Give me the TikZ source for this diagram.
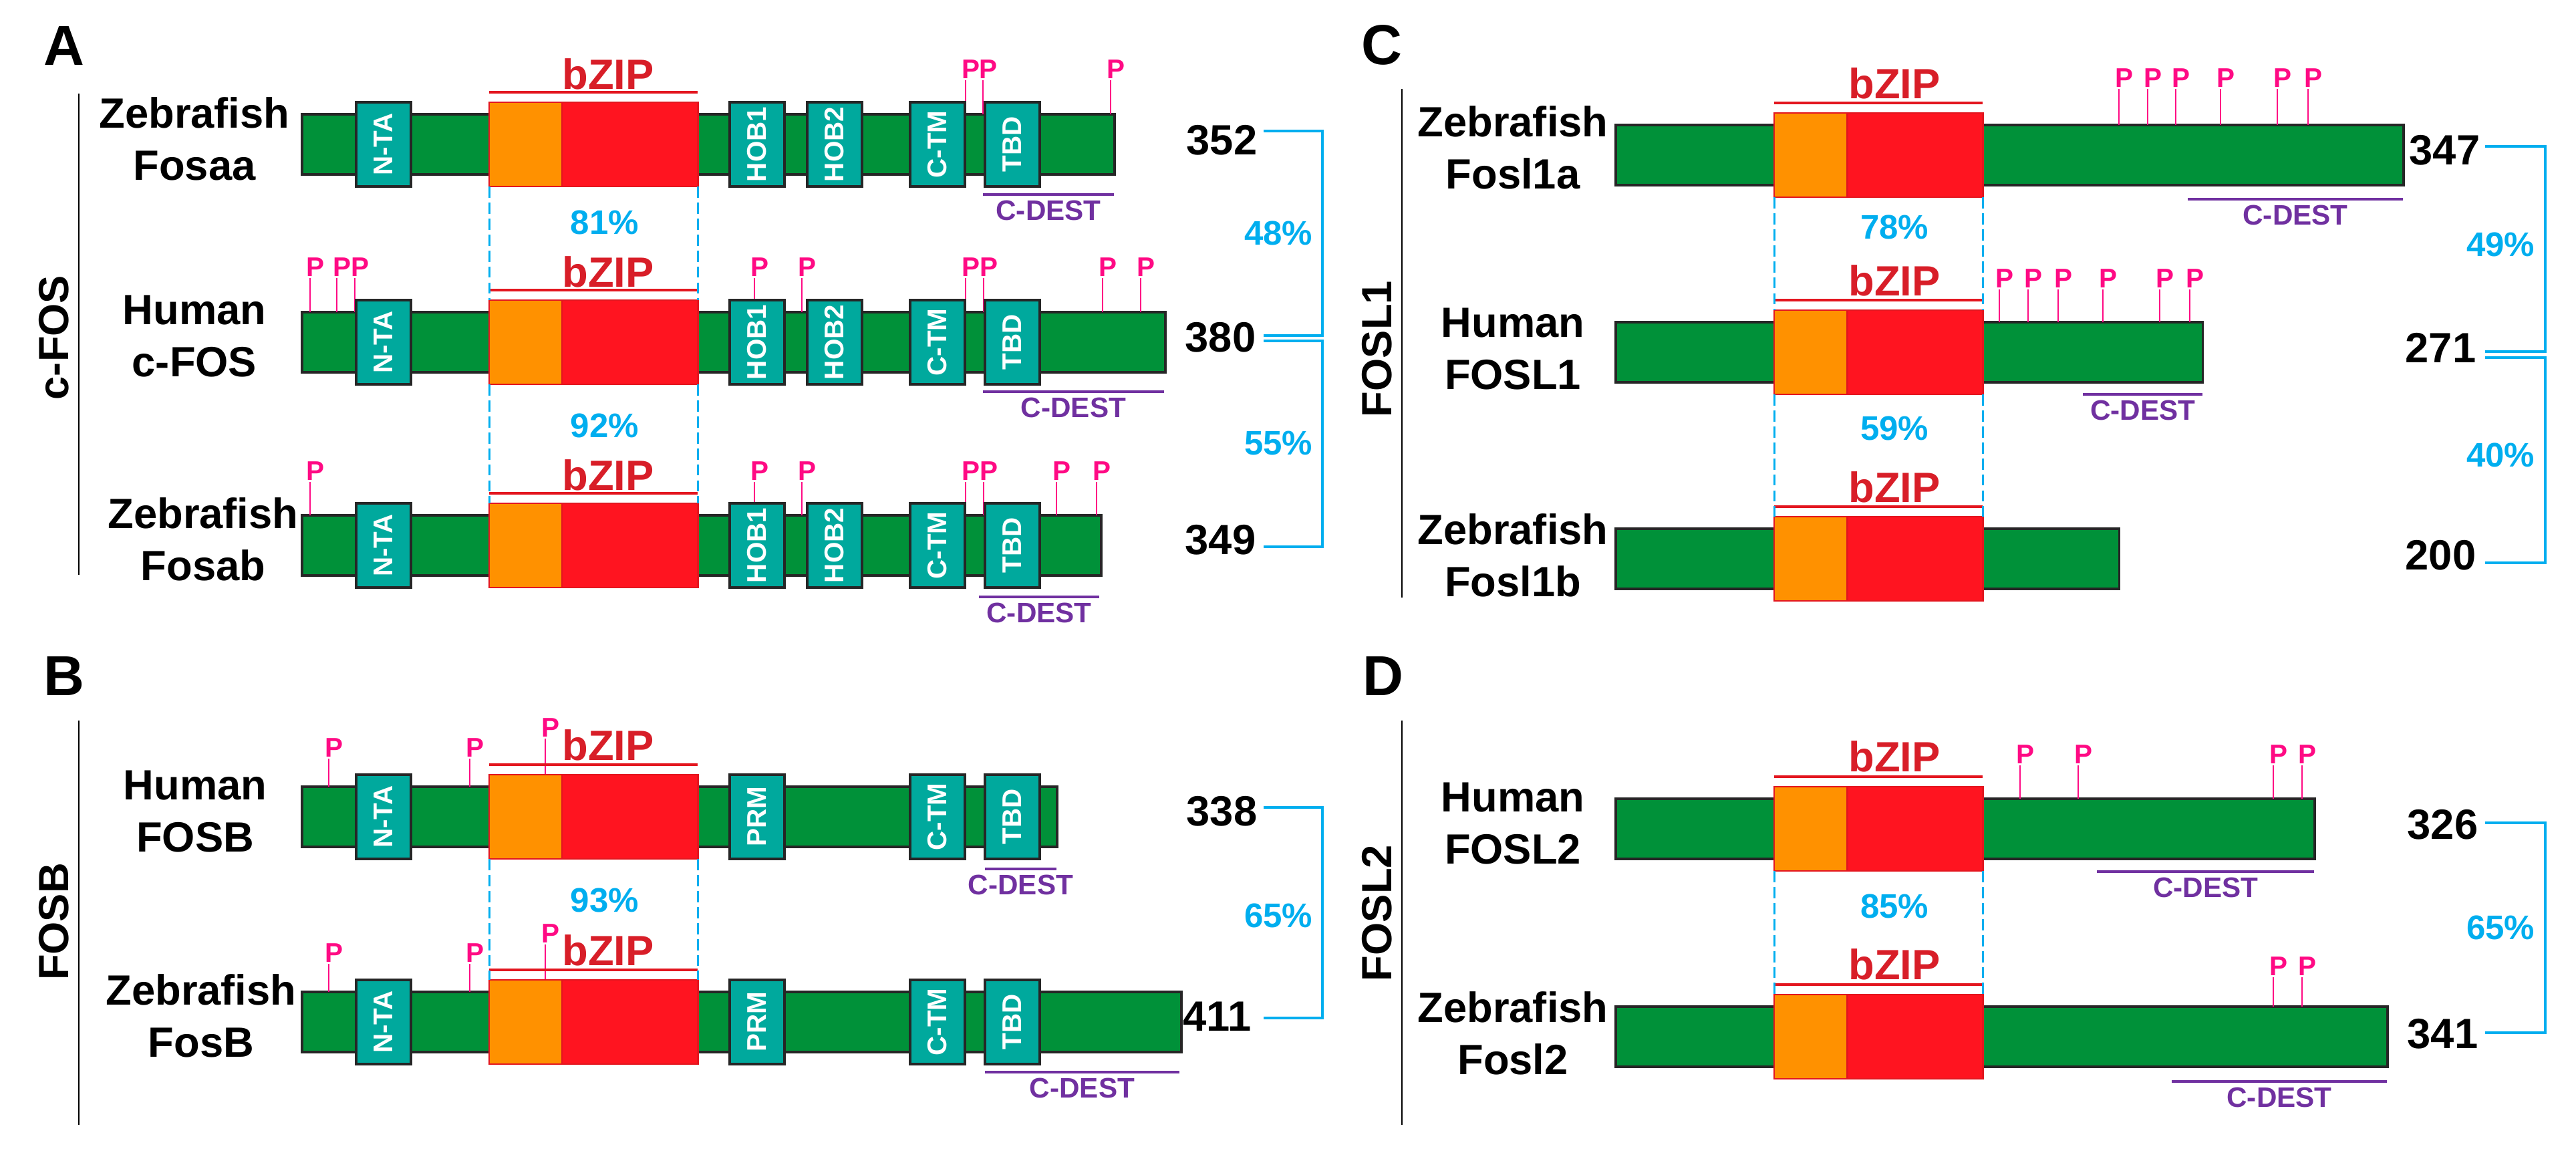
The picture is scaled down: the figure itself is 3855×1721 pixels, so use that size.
\documentclass[tikz,border=0pt]{standalone}
\usepackage{fontspec}
\setmainfont{Liberation Sans}
\setsansfont{Liberation Sans}
\usetikzlibrary{positioning}

\definecolor{fosgreen}{HTML}{009139}
\definecolor{domteal}{HTML}{00A99D}
\definecolor{bzorange}{HTML}{FF9100}
\definecolor{bzred}{HTML}{FF1420}
\definecolor{bzline}{HTML}{E3161F}
\definecolor{bztext}{HTML}{D81E28}
\definecolor{pmag}{HTML}{FF0A84}
\definecolor{destpurple}{HTML}{7030A0}
\definecolor{simcyan}{HTML}{00AEEF}

\tikzset{
	bar/.style={draw=black!85, fill=fosgreen, line width=1.1pt, minimum height=0.9cm, inner sep=0pt, outer sep=0pt, anchor=west},
	dom/.style={draw=black!85, fill=domteal, line width=1.1pt, rotate=90, minimum width=1.26cm, minimum height=0.82cm, inner sep=0pt, outer sep=0pt, text=white, font=\bfseries\fontsize{11.5}{12}\selectfont},
	bzo/.style={draw=bzline, fill=bzorange, line width=0.8pt, minimum width=1.09cm, minimum height=1.26cm, inner sep=0pt, outer sep=0pt, anchor=west},
	bzr/.style={draw=bzline, fill=bzred, line width=0.8pt, minimum width=2.03cm, minimum height=1.26cm, inner sep=0pt, outer sep=0pt, anchor=west},
	bzl/.style={draw=bzline, line width=1.2pt},
	bzlab/.style={text=bztext, font=\bfseries\fontsize{18}{20}\selectfont, inner sep=0pt, anchor=base},
	pl/.style={draw=pmag, line width=0.8pt},
	ptxt/.style={text=pmag, font=\bfseries\fontsize{11.5}{12}\selectfont, inner sep=0pt, anchor=base west, xshift=-0.06cm},
	dest/.style={draw=destpurple, line width=1pt},
	destlab/.style={text=destpurple, font=\bfseries\fontsize{12}{13}\selectfont, inner sep=0pt},
	sp/.style={font=\bfseries\fontsize{18}{22}\selectfont, align=center, inner sep=0pt},
	num/.style={font=\bfseries\fontsize{18}{20}\selectfont, inner sep=0pt, anchor=east},
	pct/.style={text=simcyan, font=\bfseries\fontsize{14.5}{16}\selectfont, inner sep=0pt},
	simdash/.style={draw=simcyan, line width=0.85pt, dash pattern=on 4.8pt off 2pt},
	brk/.style={draw=simcyan, line width=1.1pt},
	grp/.style={font=\bfseries\fontsize{18}{20}\selectfont, rotate=90, inner sep=0pt},
	plet/.style={font=\bfseries\fontsize{24}{26}\selectfont, inner sep=0pt},
	sep/.style={draw=black, line width=0.8pt}
}

\begin{document}
\begin{tikzpicture}[x=0.01cm,y=-0.01cm]
	\fill[white] (0,0) rectangle (3855,1721);
	\useasboundingbox (0,0) rectangle (3855,1721);

	% A: c-FOS
	\node[plet] (labA) at (96,68) {A};
	\node[grp] (grpA) at (81,505) {c-FOS};
	\draw[sep] (118,140) -- (118,860);
	\node[sp] (spa1) at (291,208) {Zebrafish\\Fosaa};
	\node[sp] (spa2) at (291,503) {Human\\c-FOS};
	\node[sp] (spa3) at (304,807) {Zebrafish\\Fosab};
	\node[bar, minimum width=12.15cm] (a1) at (452,216) {};
	\node[bar, minimum width=12.91cm] (a2) at (452,512) {};
	\node[bar, minimum width=11.95cm] (a3) at (452,816) {};
	\foreach \x in {1445,1471,1662} {\draw[pl] (\x,120) -- (\x,120 |- a1.north); \node[ptxt] (pa1-\x) at (\x,117) {P};}
	\foreach \x in {464,504,531,1129,1200,1445,1472,1650,1707} {\draw[pl] (\x,416) -- (\x,416 |- a2.north); \node[ptxt] (pa2-\x) at (\x,413) {P};}
	\foreach \x in {464,1129,1200,1445,1472,1581,1641} {\draw[pl] (\x,721) -- (\x,721 |- a3.north); \node[ptxt] (pa3-\x) at (\x,718) {P};}
	\foreach \rw/\yc in {1/216,2/512,3/816} {
		\node[dom] (a\rw nta) at (574,\yc) {N-TA};
		\node[dom] (a\rw hoba) at (1133,\yc) {HOB1};
		\node[dom] (a\rw hobb) at (1249,\yc) {HOB2};
		\node[dom] (a\rw ctm) at (1403,\yc) {C-TM};
		\node[dom] (a\rw tbd) at (1515,\yc) {TBD};
		\node[bzo] (a\rw o) at (732,\yc) {};
		\node[bzr] (a\rw r) at (a\rw o.east) {};
		\draw[bzl] ([yshift=0.15cm]a\rw o.north west) -- ([yshift=0.15cm]a\rw r.north east);
		\node[bzlab] (a\rw lab) at (910,\yc-83) {bZIP};
	}
	\draw[dest] (1471,291) -- (1667,291) node[destlab, midway, below=0.07cm] (a1dest) {C-DEST};
	\draw[dest] (1471,586) -- (1742,586) node[destlab, midway, below=0.07cm] (a2dest) {C-DEST};
	\draw[dest] (1465,893) -- (1645,893) node[destlab, midway, below=0.07cm] (a3dest) {C-DEST};
	\draw[simdash] (a1o.south west) -- (a2o.north west);
	\draw[simdash] (a1r.south east) -- (a2r.north east);
	\draw[simdash] (a2o.south west) -- (a3o.north west);
	\draw[simdash] (a2r.south east) -- (a3r.north east);
	\node[pct] (pa12) at (905,333) {81\%};
	\node[pct] (pa23) at (905,637) {92\%};
	\node[num] (n352) at (1882,210) {352};
	\node[num] (n380) at (1880,505) {380};
	\node[num] (n349) at (1880,808) {349};
	\coordinate (k352) at (1891,196);
	\coordinate (k380a) at (1891,502);
	\coordinate (k380b) at (1891,510);
	\coordinate (k349) at (1891,818);
	\draw[brk] (k352) -- ++(88,0) |- (k380a);
	\draw[brk] (k380b) -- ++(88,0) |- (k349);
	\node[pct] (qa12) at (1913,349) {48\%};
	\node[pct] (qa23) at (1913,663) {55\%};

	% B: FOSB
	\node[plet] (labB) at (96,1011) {B};
	\node[grp] (grpB) at (81,1379) {FOSB};
	\draw[sep] (118,1078) -- (118,1683);
	\node[sp] (spb1) at (292,1214) {Human\\FOSB};
	\node[sp] (spb2) at (301,1520) {Zebrafish\\FosB};
	\node[bar, minimum width=11.29cm] (b1) at (452,1222) {};
	\node[bar, minimum width=13.15cm] (b2) at (452,1529) {};
	\foreach \x in {492,703} {\draw[pl] (\x,1135) -- (\x,1135 |- b1.north); \node[ptxt] (pb1-\x) at (\x,1132) {P};}
	\draw[pl] (816,1105) -- (816,1105 |- b1.north); \node[ptxt] (pb1-816) at (816,1102) {P};
	\foreach \x in {492,703} {\draw[pl] (\x,1442) -- (\x,1442 |- b2.north); \node[ptxt] (pb2-\x) at (\x,1439) {P};}
	\draw[pl] (816,1413) -- (816,1413 |- b2.north); \node[ptxt] (pb2-816) at (816,1410) {P};
	\foreach \rw/\yc in {1/1222,2/1529} {
		\node[dom] (b\rw nta) at (574,\yc) {N-TA};
		\node[dom] (b\rw prm) at (1133,\yc) {PRM};
		\node[dom] (b\rw ctm) at (1403,\yc) {C-TM};
		\node[dom] (b\rw tbd) at (1515,\yc) {TBD};
		\node[bzo] (b\rw o) at (732,\yc) {};
		\node[bzr] (b\rw r) at (b\rw o.east) {};
		\draw[bzl] ([yshift=0.15cm]b\rw o.north west) -- ([yshift=0.15cm]b\rw r.north east);
		\node[bzlab] (b\rw lab) at (910,\yc-85) {bZIP};
	}
	\draw[dest] (1474,1300) -- (1581,1300) node[destlab, midway, below=0.07cm] (b1dest) {C-DEST};
	\draw[dest] (1474,1604) -- (1765,1604) node[destlab, midway, below=0.07cm] (b2dest) {C-DEST};
	\draw[simdash] (b1o.south west) -- (b2o.north west);
	\draw[simdash] (b1r.south east) -- (b2r.north east);
	\node[pct] (pb12) at (905,1347) {93\%};
	\node[num] (n338) at (1882,1214) {338};
	\node[num] (n411) at (1873,1521) {411};
	\coordinate (k338) at (1891,1208);
	\coordinate (k411) at (1891,1523);
	\draw[brk] (k338) -- ++(88,0) |- (k411);
	\node[pct] (qb12) at (1913,1370) {65\%};

	% C: FOSL1
	\node[plet] (labC) at (2068,67) {C};
	\node[grp] (grpC) at (2061,522) {FOSL1};
	\draw[sep] (2098,133) -- (2098,894);
	\node[sp] (spc1) at (2264,221) {Zebrafish\\Fosl1a};
	\node[sp] (spc2) at (2264,522) {Human\\FOSL1};
	\node[sp] (spc3) at (2264,831) {Zebrafish\\Fosl1b};
	\node[bar, minimum width=11.78cm] (c1) at (2418,232) {};
	\node[bar, minimum width=8.78cm] (c2) at (2418,527) {};
	\node[bar, minimum width=7.53cm] (c3) at (2418,836) {};
	\foreach \x in {3171,3214,3256,3323,3408,3454} {\draw[pl] (\x,133) -- (\x,133 |- c1.north); \node[ptxt] (pc1-\x) at (\x,130) {P};}
	\foreach \x in {2992,3035,3080,3147,3232,3277} {\draw[pl] (\x,433) -- (\x,433 |- c2.north); \node[ptxt] (pc2-\x) at (\x,430) {P};}
	\foreach \rw/\yc in {1/232,2/527,3/836} {
		\node[bzo] (c\rw o) at (2655,\yc) {};
		\node[bzr] (c\rw r) at (c\rw o.east) {};
		\draw[bzl] ([yshift=0.15cm]c\rw o.north west) -- ([yshift=0.15cm]c\rw r.north east);
		\node[bzlab] (c\rw lab) at (2835,\yc-85) {bZIP};
	}
	\draw[dest] (3274,298) -- (3596,298) node[destlab, midway, below=0.07cm] (c1dest) {C-DEST};
	\draw[dest] (3117,590) -- (3296,590) node[destlab, midway, below=0.07cm] (c2dest) {C-DEST};
	\draw[simdash] (c1o.south west) -- (c2o.north west);
	\draw[simdash] (c1r.south east) -- (c2r.north east);
	\draw[simdash] (c2o.south west) -- (c3o.north west);
	\draw[simdash] (c2r.south east) -- (c3r.north east);
	\node[pct] (pc12) at (2835,340) {78\%};
	\node[pct] (pc23) at (2835,641) {59\%};
	\node[num] (n347) at (3712,225) {347};
	\node[num] (n271) at (3706,520) {271};
	\node[num] (n200) at (3706,831) {200};
	\coordinate (k347) at (3719,219);
	\coordinate (k271a) at (3719,526);
	\coordinate (k271b) at (3719,535);
	\coordinate (k200) at (3719,842);
	\draw[brk] (k347) -- ++(90,0) |- (k271a);
	\draw[brk] (k271b) -- ++(90,0) |- (k200);
	\node[pct] (qc12) at (3742,366) {49\%};
	\node[pct] (qc23) at (3742,681) {40\%};

	% D: FOSL2
	\node[plet] (labD) at (2070,1011) {D};
	\node[grp] (grpD) at (2061,1366) {FOSL2};
	\draw[sep] (2098,1078) -- (2098,1683);
	\node[sp] (spd1) at (2264,1232) {Human\\FOSL2};
	\node[sp] (spd2) at (2264,1546) {Zebrafish\\Fosl2};
	\node[bar, minimum width=10.45cm] (d1) at (2418,1240) {};
	\node[bar, minimum width=11.54cm] (d2) at (2418,1551) {};
	\foreach \x in {3023,3110,3402,3445} {\draw[pl] (\x,1145) -- (\x,1145 |- d1.north); \node[ptxt] (pd1-\x) at (\x,1142) {P};}
	\foreach \x in {3402,3445} {\draw[pl] (\x,1462) -- (\x,1462 |- d2.north); \node[ptxt] (pd2-\x) at (\x,1459) {P};}
	\foreach \rw/\yc in {1/1240,2/1551} {
		\node[bzo] (d\rw o) at (2655,\yc) {};
		\node[bzr] (d\rw r) at (d\rw o.east) {};
		\draw[bzl] ([yshift=0.15cm]d\rw o.north west) -- ([yshift=0.15cm]d\rw r.north east);
		\node[bzlab] (d\rw lab) at (2835,\yc-86) {bZIP};
	}
	\draw[dest] (3138,1304) -- (3463,1304) node[destlab, midway, below=0.07cm] (d1dest) {C-DEST};
	\draw[dest] (3250,1618) -- (3572,1618) node[destlab, midway, below=0.07cm] (d2dest) {C-DEST};
	\draw[simdash] (d1o.south west) -- (d2o.north west);
	\draw[simdash] (d1r.south east) -- (d2r.north east);
	\node[pct] (pd12) at (2835,1356) {85\%};
	\node[num] (n326) at (3709,1234) {326};
	\node[num] (n341) at (3709,1547) {341};
	\coordinate (k326) at (3719,1231);
	\coordinate (k341) at (3719,1545);
	\draw[brk] (k326) -- ++(90,0) |- (k341);
	\node[pct] (qd12) at (3742,1388) {65\%};
\end{tikzpicture}
\end{document}
